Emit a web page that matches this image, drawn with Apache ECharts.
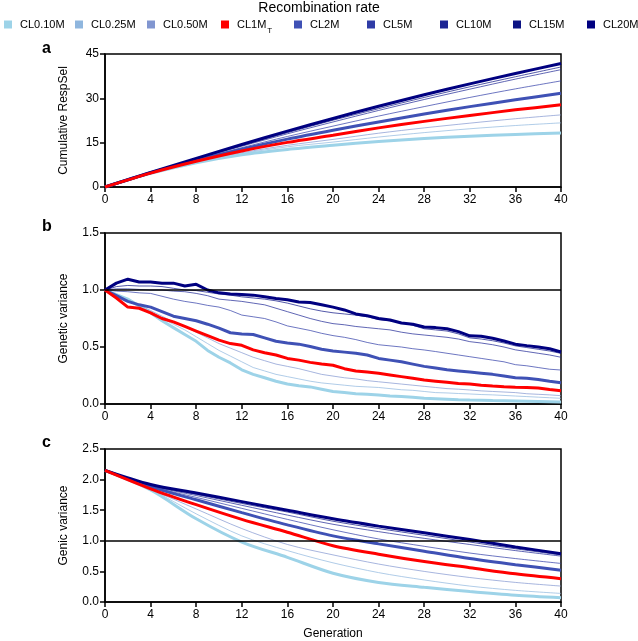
<!DOCTYPE html>
<html>
<head>
<meta charset="utf-8">
<script src="https://cdn.jsdelivr.net/npm/echarts@6/dist/echarts.min.js"></script>
<style>
html, body { margin: 0; padding: 0; background: #fff; }
#main { width: 638px; height: 641px; }
</style>
</head>
<body>
<div id="main"></div>
<script>
// series names / colours / legend slots
var seriesNames = ['CL0.10M', 'CL0.25M', 'CL0.50M', 'CL1MT', 'CL2M', 'CL5M', 'CL10M', 'CL15M', 'CL20M'];
var seriesColors = ['#9dd3e8', '#8fb6de', '#8196d0', '#ff0000', '#3f51b5', '#2f3ca6', '#1d2594', '#0c1384', '#000080'];
var seriesWidths = [3, 1, 1, 3, 3, 1, 1, 1, 3];
var legendLeft = [4, 75, 147, 221, 294, 367, 440, 513, 587];

// generations
var gensAC = [0, 4, 8, 12, 16, 20, 24, 28, 32, 36, 40];
var gensB = [0, 1, 2, 3, 4, 5, 6, 7, 8, 9, 10, 11, 12, 13, 14, 15, 16, 17, 18, 19, 20,
  21, 22, 23, 24, 25, 26, 27, 28, 29, 30, 31, 32, 33, 34, 35, 36, 37, 38, 39, 40];

// a: Cumulative RespSel (every 4 generations)
var respCL010 = [0, 4.6, 8.2, 10.9, 12.7, 14.1, 15.4, 16.4, 17.2, 17.8, 18.3];
var respCL025 = [0, 4.6, 8.4, 11.3, 13.6, 15.2, 16.9, 18.4, 19.7, 20.8, 21.7];
var respCL050 = [0, 4.7, 8.5, 11.6, 14.1, 16.1, 18.2, 20.0, 21.6, 23.1, 24.4];
var respCL1MT = [0, 4.7, 8.7, 12.2, 15.1, 17.5, 20.0, 22.2, 24.2, 26.1, 27.8];
var respCL2 = [0, 4.8, 9.0, 12.8, 16.2, 19.2, 22.0, 24.7, 27.2, 29.5, 31.7];
var respCL5 = [0, 4.8, 9.2, 13.3, 17.1, 20.6, 24.0, 27.2, 30.3, 33.2, 35.9];
var respCL10 = [0, 4.8, 9.4, 13.8, 18.0, 22.0, 25.9, 29.6, 33.1, 36.5, 39.7];
var respCL15 = [0, 4.9, 9.6, 14.1, 18.4, 22.6, 26.5, 30.3, 33.9, 37.3, 40.6];
var respCL20 = [0, 4.9, 9.7, 14.4, 18.9, 23.2, 27.3, 31.2, 34.9, 38.4, 41.8];

// b: Genetic variance (every generation)
var genetCL010 = [1.0, 0.96, 0.92, 0.86, 0.80, 0.73, 0.67, 0.61, 0.55, 0.47, 0.41, 0.36, 0.30, 0.26, 0.23, 0.20, 0.175, 0.16, 0.15, 0.13, 0.11,
  0.10, 0.09, 0.085, 0.078, 0.07, 0.065, 0.06, 0.05, 0.046, 0.042, 0.038, 0.035, 0.033, 0.03, 0.028, 0.026, 0.024, 0.022, 0.02, 0.018];
var genetCL025 = [1.0, 0.96, 0.92, 0.865, 0.81, 0.75, 0.70, 0.65, 0.59, 0.53, 0.47, 0.42, 0.37, 0.32, 0.29, 0.26, 0.24, 0.22, 0.20, 0.185, 0.175,
  0.165, 0.155, 0.15, 0.145, 0.135, 0.125, 0.12, 0.11, 0.10, 0.097, 0.092, 0.088, 0.083, 0.08, 0.075, 0.07, 0.065, 0.06, 0.055, 0.05];
var genetCL050 = [1.0, 0.96, 0.92, 0.87, 0.82, 0.77, 0.72, 0.68, 0.63, 0.58, 0.53, 0.49, 0.45, 0.41, 0.38, 0.35, 0.33, 0.31, 0.285, 0.26, 0.245,
  0.23, 0.22, 0.205, 0.195, 0.185, 0.175, 0.165, 0.155, 0.145, 0.135, 0.13, 0.123, 0.115, 0.11, 0.105, 0.10, 0.09, 0.085, 0.08, 0.073];
var genetCL1MT = [1.0, 0.93, 0.85, 0.84, 0.80, 0.75, 0.72, 0.68, 0.64, 0.60, 0.56, 0.53, 0.515, 0.475, 0.45, 0.43, 0.40, 0.385, 0.365, 0.35, 0.34,
  0.31, 0.29, 0.28, 0.27, 0.255, 0.24, 0.225, 0.21, 0.20, 0.19, 0.18, 0.175, 0.165, 0.158, 0.152, 0.148, 0.145, 0.14, 0.128, 0.117];
var genetCL2 = [1.0, 0.95, 0.90, 0.87, 0.85, 0.81, 0.77, 0.75, 0.73, 0.70, 0.665, 0.625, 0.615, 0.61, 0.58, 0.55, 0.535, 0.525, 0.505, 0.48, 0.465,
  0.455, 0.445, 0.43, 0.40, 0.385, 0.37, 0.35, 0.33, 0.315, 0.30, 0.29, 0.28, 0.27, 0.26, 0.245, 0.23, 0.225, 0.215, 0.20, 0.187];
var genetCL5 = [1.0, 0.99, 0.985, 0.975, 0.97, 0.945, 0.92, 0.90, 0.885, 0.865, 0.85, 0.82, 0.78, 0.765, 0.75, 0.72, 0.685, 0.665, 0.645, 0.62, 0.60,
  0.585, 0.565, 0.54, 0.52, 0.51, 0.50, 0.485, 0.474, 0.46, 0.445, 0.43, 0.415, 0.40, 0.385, 0.37, 0.345, 0.335, 0.32, 0.305, 0.298];
var genetCL10 = [1.0, 1.01, 1.01, 1.005, 1.0, 1.0, 0.99, 0.985, 0.97, 0.95, 0.92, 0.91, 0.90, 0.885, 0.87, 0.84, 0.81, 0.78, 0.75, 0.725, 0.705,
  0.695, 0.68, 0.67, 0.66, 0.65, 0.63, 0.615, 0.605, 0.595, 0.585, 0.57, 0.547, 0.535, 0.52, 0.50, 0.475, 0.46, 0.445, 0.43, 0.41];
var genetCL15 = [1.0, 1.03, 1.04, 1.035, 1.035, 1.03, 1.015, 1.0, 0.995, 0.98, 0.965, 0.955, 0.94, 0.93, 0.92, 0.905, 0.885, 0.86, 0.835, 0.815, 0.80,
  0.79, 0.78, 0.765, 0.74, 0.73, 0.715, 0.69, 0.66, 0.65, 0.64, 0.615, 0.58, 0.57, 0.555, 0.535, 0.51, 0.495, 0.48, 0.465, 0.444];
var genetCL20 = [1.0, 1.06, 1.095, 1.07, 1.07, 1.06, 1.06, 1.035, 1.05, 1.0, 0.975, 0.965, 0.96, 0.955, 0.94, 0.925, 0.915, 0.895, 0.89, 0.87, 0.85,
  0.825, 0.79, 0.775, 0.75, 0.737, 0.71, 0.70, 0.675, 0.67, 0.66, 0.635, 0.598, 0.594, 0.576, 0.553, 0.525, 0.512, 0.50, 0.485, 0.456];

// c: Genic variance (every 4 generations)
var genicCL010 = [2.15, 1.83, 1.36, 0.98, 0.73, 0.47, 0.32, 0.24, 0.17, 0.11, 0.07];
var genicCL025 = [2.15, 1.84, 1.44, 1.08, 0.84, 0.64, 0.48, 0.36, 0.26, 0.19, 0.14];
var genicCL050 = [2.15, 1.84, 1.52, 1.20, 0.94, 0.77, 0.62, 0.50, 0.40, 0.32, 0.26];
var genicCL1MT = [2.15, 1.85, 1.59, 1.35, 1.14, 0.92, 0.78, 0.66, 0.56, 0.46, 0.38];
var genicCL2 = [2.15, 1.88, 1.67, 1.46, 1.26, 1.08, 0.95, 0.83, 0.71, 0.61, 0.52];
var genicCL5 = [2.15, 1.89, 1.71, 1.53, 1.35, 1.18, 1.03, 0.91, 0.80, 0.71, 0.63];
var genicCL10 = [2.15, 1.90, 1.74, 1.58, 1.42, 1.27, 1.15, 1.04, 0.94, 0.84, 0.75];
var genicCL15 = [2.15, 1.91, 1.76, 1.61, 1.47, 1.32, 1.20, 1.09, 0.98, 0.87, 0.77];
var genicCL20 = [2.15, 1.92, 1.78, 1.64, 1.50, 1.36, 1.24, 1.13, 1.02, 0.90, 0.79];

var respSel = [respCL010, respCL025, respCL050, respCL1MT, respCL2, respCL5, respCL10, respCL15, respCL20];
var genetic = [genetCL010, genetCL025, genetCL050, genetCL1MT, genetCL2, genetCL5, genetCL10, genetCL15, genetCL20];
var genic = [genicCL010, genicCL025, genicCL050, genicCL1MT, genicCL2, genicCL5, genicCL10, genicCL15, genicCL20];

var FONT = 'Liberation Sans, Arial, sans-serif';

var myChart = echarts.init(document.getElementById('main'));

function pairs(xs, ys) {
  var res = [];
  for (var i = 0; i < ys.length; i++) res.push([xs[i], ys[i]]);
  return res;
}

var refLine = {
  silent: true,
  symbol: 'none',
  label: { show: false },
  lineStyle: { color: '#000', width: 1.5, type: 'solid' },
  data: [{ yAxis: 1 }]
};

var series = [];
var panels = [
  { values: respSel, xs: gensAC, smooth: true, ref: false },
  { values: genetic, xs: gensB, smooth: false, ref: true },
  { values: genic, xs: gensAC, smooth: true, ref: true }
];
panels.forEach(function (p, k) {
  // thin lines first, thick ones on top
  var order = [1, 2, 5, 6, 7, 0, 4, 8, 3];
  order.forEach(function (i, j) {
    var thin = seriesWidths[i] === 1;
    var s = {
      name: seriesNames[i],
      type: 'line',
      xAxisIndex: k,
      yAxisIndex: k,
      data: pairs(p.xs, p.values[i]),
      symbol: 'none',
      smooth: p.smooth ? 0.3 : false,
      color: seriesColors[i],
      lineStyle: { width: seriesWidths[i], color: seriesColors[i], opacity: thin ? 0.7 : 1 },
      z: thin ? 2 : 3
    };
    if (p.ref && j === 0) s.markLine = refLine;
    series.push(s);
  });
});

var grids = [
  { left: 105, right: 77, top: 54, height: 133 },
  { left: 105, right: 77, top: 233, height: 171 },
  { left: 105, right: 77, top: 449, height: 153 }
];
grids.forEach(function (g) {
  g.show = true;
  g.borderColor = '#000';
  g.borderWidth = 1.5;
  g.backgroundColor = 'transparent';
});

var yNames = ['Cumulative RespSel', 'Genetic variance', 'Genic variance'];
var yMax = [45, 1.5, 2.5];
var yInt = [15, 0.5, 0.5];

var axisCommon = {
  axisLine: { show: true, lineStyle: { color: '#000', width: 1.5 } },
  axisTick: { show: true, length: 5, lineStyle: { color: '#000', width: 1.5 } },
  splitLine: { show: false }
};

var xAxes = [0, 1, 2].map(function (k) {
  return Object.assign({}, axisCommon, {
    type: 'value',
    gridIndex: k,
    min: 0,
    max: 40,
    interval: 4,
    axisLabel: { color: '#000', fontSize: 12, fontFamily: FONT, margin: 7 },
    name: k === 2 ? 'Generation' : '',
    nameLocation: 'middle',
    nameGap: 26,
    nameTextStyle: { color: '#000', fontSize: 12, fontFamily: FONT }
  });
});

var yAxes = [0, 1, 2].map(function (k) {
  return Object.assign({}, axisCommon, {
    type: 'value',
    gridIndex: k,
    min: 0,
    max: yMax[k],
    interval: yInt[k],
    axisLabel: {
      color: '#000', fontSize: 12, fontFamily: FONT, margin: 6,
      formatter: function (v) { return k === 0 ? String(v) : v.toFixed(1); }
    },
    name: yNames[k],
    nameLocation: 'middle',
    nameGap: 35,
    nameTextStyle: { color: '#000', fontSize: 12, fontFamily: FONT }
  });
});

var legends = seriesNames.map(function (n, i) {
  return {
    data: [n],
    left: legendLeft[i],
    top: 19,
    padding: 0,
    itemGap: 0,
    icon: 'rect',
    itemWidth: 8,
    itemHeight: 8,
    selectedMode: false,
    formatter: function (name) {
      return name === 'CL1MT' ? 'CL1M{sub|T}' : name;
    },
    textStyle: {
      color: '#000', fontSize: 11, fontFamily: FONT, padding: [0, 0, 0, 3],
      rich: { sub: { fontSize: 8, fontFamily: FONT, color: '#000', verticalAlign: 'bottom', padding: [0, 0, -5, 1] } }
    }
  };
});

var option = {
  backgroundColor: '#fff',
  animation: false,
  title: {
    text: 'Recombination rate',
    left: 'center',
    top: 1,
    padding: 0,
    textStyle: { color: '#000', fontSize: 14, fontWeight: 'normal', fontFamily: FONT }
  },
  legend: legends,
  grid: grids,
  xAxis: xAxes,
  yAxis: yAxes,
  series: series,
  graphic: [
    { type: 'text', left: 42, top: 41, style: { text: 'a', font: 'bold 16px ' + FONT, fill: '#000' } },
    { type: 'text', left: 42, top: 219, style: { text: 'b', font: 'bold 16px ' + FONT, fill: '#000' } },
    { type: 'text', left: 42, top: 435, style: { text: 'c', font: 'bold 16px ' + FONT, fill: '#000' } }
  ]
};

myChart.setOption(option);
window.addEventListener('resize', function () {
  myChart.resize();
});
</script>
</body>
</html>
